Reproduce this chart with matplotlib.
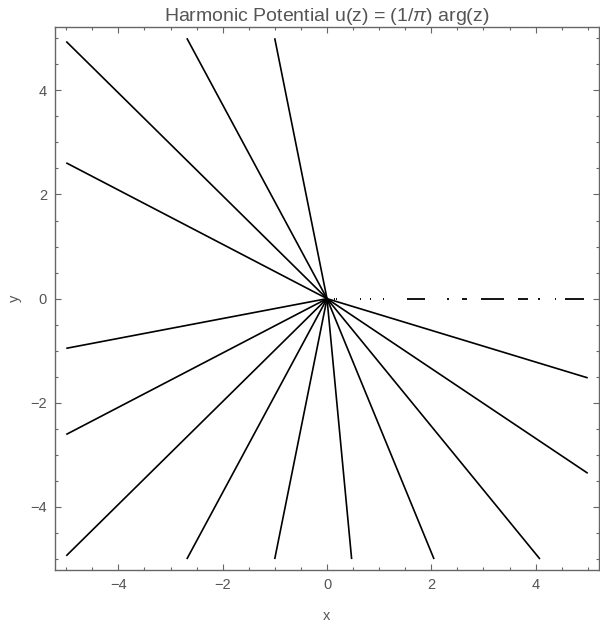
import numpy as np
import matplotlib
matplotlib.use("Agg")
import matplotlib.pyplot as plt
from matplotlib.ticker import MultipleLocator

plt.rcParams['font.family'] = ['Liberation Sans', 'DejaVu Sans']
plt.rcParams['mathtext.fontset'] = 'custom'
plt.rcParams['mathtext.rm'] = 'Liberation Sans'
plt.rcParams['mathtext.it'] = 'Liberation Sans:italic'

# contour levels u = arg(z)/pi that appear in the picture
upper_levels = [0.563, 0.657, 0.752, 0.847]
lower_levels = [-0.094, -0.188, -0.282, -0.376, -0.470,
                -0.563, -0.657, -0.752, -0.847, -0.940]
# broken u = 0 contour along the positive real axis (x start, x end)
zero_segments = [(0.13, 0.15), (0.17, 0.19), (0.63, 0.66), (0.82, 0.85),
                 (1.07, 1.10), (1.53, 1.88), (2.31, 2.34), (2.59, 2.69),
                 (2.96, 3.40), (3.67, 3.85), (4.05, 4.08), (4.37, 4.40),
                 (4.56, 4.92)]
xticks = [-4, -2, 0, 2, 4]
yticks = [-4, -2, 0, 2, 4]
half = 5.0

fig = plt.figure(figsize=(6.0, 6.29), dpi=100)
ax = fig.add_axes([0.0922, 0.0938, 0.9056, 0.8628])

gray = '#666666'
for u in upper_levels + lower_levels:
    th = np.pi * u
    r = half / max(abs(np.cos(th)), abs(np.sin(th)))
    ax.plot([0, r * np.cos(th)], [0, r * np.sin(th)], color='black',
            lw=1.2, solid_capstyle='butt')

for x0, x1 in zero_segments:
    ax.plot([x0, x1], [0, 0], color='black', lw=1.3, solid_capstyle='butt')

ax.set_xlim(-5.21, 5.21)
ax.set_ylim(-5.21, 5.21)
ax.set_xticks(xticks)
ax.set_yticks(yticks)
ax.set_xticklabels(['\u22124', '\u22122', '0', '2', '4'])
ax.set_yticklabels(['\u22124', '\u22122', '0', '2', '4'])
ax.xaxis.set_minor_locator(MultipleLocator(0.5))
ax.yaxis.set_minor_locator(MultipleLocator(0.5))
ax.tick_params(which='both', direction='in', top=True, right=True,
               color=gray, labelcolor='#555555', labelsize=10.5, width=0.8)
ax.tick_params(which='major', length=4.5, pad=6)
ax.tick_params(which='minor', length=2.3)
for s in ax.spines.values():
    s.set_color(gray)
    s.set_linewidth(1.0)

ax.set_xlabel('x', color='#555555', fontsize=10.5, labelpad=12)
ax.set_ylabel('y', color='#555555', fontsize=10.5, labelpad=6)
ax.set_title('Harmonic Potential u(z) = (1/$\\pi$) arg(z)', color='#555555',
             fontsize=14, pad=4)

fig.savefig('out.png', dpi=100)
